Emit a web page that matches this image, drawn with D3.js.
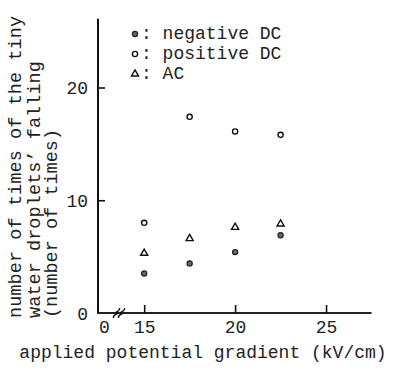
<!DOCTYPE html>
<html>
<head>
<meta charset="utf-8">
<script src="https://cdn.jsdelivr.net/npm/d3@7"></script>
<style>
  body { margin: 0; background: #fff; }
  text { font-family: "Courier New", "Liberation Mono", monospace; fill: #222; }
</style>
</head>
<body>
<div id="chart"></div>
<script>
// applied potential gradient (kV/cm)
const fieldKV = [15, 17.5, 20, 22.5];
// number of times the tiny water droplets fell
const negativeDC = [3.5, 4.4, 5.4, 6.9];
const positiveDC = [8.0, 17.4, 16.1, 15.8];
const acValues = [5.3, 6.6, 7.6, 7.9];

const xTickValues = [0, 15, 20, 25];
const yTickValues = [0, 10, 20];
const seriesNames = ["negative DC", "positive DC", "AC"];
const yLabelLines = ["number of times of the tiny", "water droplets\u2019 falling", "(number of times)"];
const xLabel = "applied potential gradient (kV/cm)";

const width = 407, height = 372;
const axisLeftX = 98;

const svg = d3.select("#chart").append("svg")
  .attr("width", width)
  .attr("height", height);

// broken x scale: 0 sits just after the origin, then jumps to 14
const xScale = d3.scaleLinear()
  .domain([0, 14, 27.5])
  .range([104, 126, 371.5]);

const yScale = d3.scaleLinear()
  .domain([0, 20])
  .range([313, 87.5]);

const yTop = 26.1;

// axis lines
svg.append("line")
  .attr("x1", axisLeftX).attr("x2", axisLeftX)
  .attr("y1", yScale(0) + 1).attr("y2", yScale(yTop))
  .attr("stroke", "#111").attr("stroke-width", 2);

svg.append("line")
  .attr("x1", axisLeftX - 1).attr("x2", xScale(27.5))
  .attr("y1", yScale(0)).attr("y2", yScale(0))
  .attr("stroke", "#222").attr("stroke-width", 1.8);

// y axis ticks
const yAxis = svg.append("g")
  .attr("transform", "translate(" + axisLeftX + ",0)")
  .call(d3.axisLeft(yScale).tickValues(yTickValues).tickSize(-7).tickPadding(10).tickFormat(d3.format("d")));
yAxis.select(".domain").remove();
yAxis.selectAll(".tick line").attr("stroke", "#111").attr("stroke-width", 1.6)
  .filter(d => d === 0).remove();
yAxis.selectAll(".tick text")
  .attr("font-size", 18).attr("font-family", null).attr("fill", "#222")
  .attr("dy", "0.35em");

// x axis ticks
const xAxis = svg.append("g")
  .attr("transform", "translate(0," + yScale(0) + ")")
  .call(d3.axisBottom(xScale).tickValues(xTickValues).tickSize(-8).tickFormat(d3.format("d")));
xAxis.select(".domain").remove();
xAxis.selectAll(".tick line").attr("stroke", "#111").attr("stroke-width", 1.6)
  .filter(d => d === 0).remove();
xAxis.selectAll(".tick text")
  .attr("font-size", 18).attr("font-family", null).attr("fill", "#222")
  .attr("dy", null).attr("y", 20);

// axis break marks
const bx = xScale(0) + 15, by = yScale(0);
[-2.5, 2.5].forEach(off => {
  svg.append("path")
    .attr("d", "M" + (bx + off - 3) + "," + (by + 5) +
      " C" + (bx + off - 4) + "," + (by + 1) + " " + (bx + off + 3) + "," + (by + 1) + " " + (bx + off) + "," + by +
      " C" + (bx + off - 3) + "," + (by - 1) + " " + (bx + off + 4) + "," + (by - 1) + " " + (bx + off + 3) + "," + (by - 5))
    .attr("fill", "none").attr("stroke", "#111").attr("stroke-width", 1.4);
});

// markers
function drawMarker(g, kind, cx, cy) {
  if (kind === 0) {
    g.append("circle").attr("cx", cx).attr("cy", cy).attr("r", 2.6)
      .attr("fill", "#666").attr("stroke", "#222").attr("stroke-width", 1.2);
  } else if (kind === 1) {
    g.append("circle").attr("cx", cx).attr("cy", cy).attr("r", 2.6)
      .attr("fill", "#fff").attr("stroke", "#111").attr("stroke-width", 1.4);
  } else {
    g.append("path")
      .attr("transform", "translate(" + cx + "," + cy + ")")
      .attr("d", d3.symbol().type(d3.symbolTriangle).size(22)())
      .attr("fill", "#fff").attr("stroke", "#111").attr("stroke-width", 1.4);
  }
}

const seriesValues = [negativeDC, positiveDC, acValues];
const points = svg.append("g");
seriesValues.forEach((vals, k) => {
  vals.forEach((v, i) => drawMarker(points, k, xScale(fieldKV[i]), yScale(v)));
});

// legend
const legend = svg.append("g");
seriesNames.forEach((name, k) => {
  const ly = 34 + k * 20;
  drawMarker(legend, k, 135, ly);
  legend.append("text")
    .attr("x", 141).attr("y", ly + 5)
    .attr("font-size", 18)
    .text(": " + name);
});

// axis titles
svg.append("text")
  .attr("x", 203).attr("y", 358)
  .attr("text-anchor", "middle")
  .attr("font-size", 18)
  .text(xLabel);

// y title: three rotated lines, stretched slightly like the original typewriter face
const yLabelPx = 11.3;
yLabelLines.forEach((line, i) => {
  svg.append("text")
    .attr("transform", "translate(" + [21, 40, 57][i] + ",318) rotate(-90)")
    .attr("font-size", 18.5)
    .attr("textLength", line.length * yLabelPx - 3)
    .attr("lengthAdjust", "spacing")
    .text(line);
});
</script>
</body>
</html>
